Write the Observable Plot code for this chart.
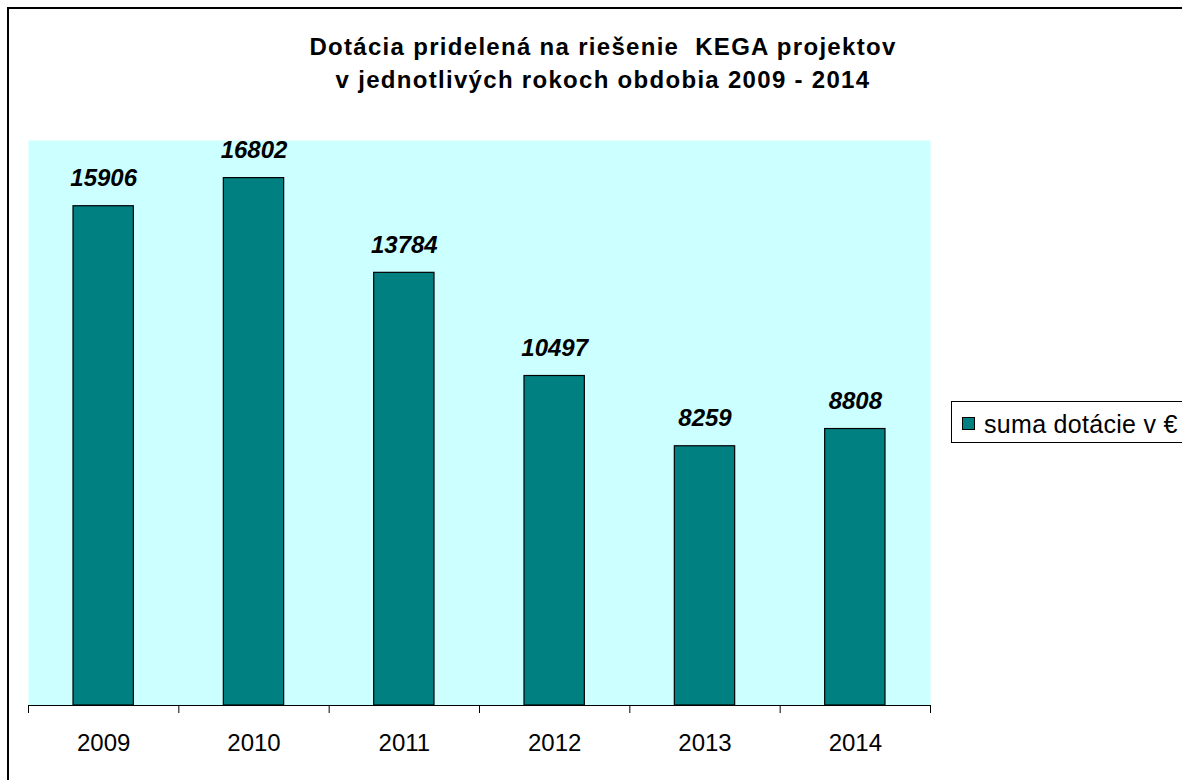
<!DOCTYPE html>
<html>
<head>
<meta charset="utf-8">
<script src="https://cdn.jsdelivr.net/npm/d3@7"></script>
<script src="https://cdn.jsdelivr.net/npm/@observablehq/plot@0.6"></script>
<style>
  html, body { margin: 0; padding: 0; background: #fff; }
  #wrap { position: relative; width: 1182px; height: 780px; overflow: hidden; font-family: "Liberation Sans", Arial, sans-serif; }
  #border { position: absolute; left: 7px; top: 7px; width: 1200px; height: 800px; border-left: 2px solid #000; border-top: 2px solid #000; }
  #title { position: absolute; left: 0; width: 1206px; top: 30px; text-align: center; font-weight: bold; font-size: 24px; letter-spacing: 1.3px; line-height: 33px; color: #000; }
  #legend { position: absolute; left: 951px; top: 401px; width: 260px; height: 42px; border: 1px solid #000; box-sizing: border-box; }
  #legend .sw { position: absolute; left: 10px; top: 15px; width: 11px; height: 11px; background: #008080; border: 1px solid #000; }
  #legend .lb { position: absolute; left: 32px; top: 8.5px; font-size: 25px; line-height: 26px; letter-spacing: 0.3px; white-space: nowrap; }
  #chart { position: absolute; left: 0; top: 0; }
</style>
</head>
<body>
<div id="wrap">
  <div id="chart"></div>
  <div id="border"></div>
  <div id="title">Dotácia pridelená na riešenie&nbsp; KEGA projektov<br>v jednotlivých rokoch obdobia 2009 - 2014</div>
  <div id="legend"><div class="sw"></div><div class="lb">suma dotácie v €</div></div>
</div>
<script>
const years = ["2009", "2010", "2011", "2012", "2013", "2014"];
const values = [15906, 16802, 13784, 10497, 8259, 8808];
const seriesName = "suma dotácie v €";

const data = years.map((y, i) => ({ year: y, idx: i, value: values[i] }));
const tickPositions = d3.range(years.length + 1);

const chart = Plot.plot({
  width: 1182,
  height: 780,
  marginLeft: 28,
  marginRight: 252,
  marginTop: 140,
  marginBottom: 75,
  style: { fontFamily: "'Liberation Sans', Arial, sans-serif", background: "transparent" },
  x: { type: "linear", domain: [0, years.length], label: null },
  y: { domain: [0, 18000], axis: null, label: null },
  marks: [
    Plot.frame({ fill: "#ccffff", stroke: null }),
    Plot.rectY(data, { x1: "idx", x2: d => d.idx + 1, y: "value", insetLeft: 45, insetRight: 45, fill: "#008080", stroke: "#000", strokeWidth: 1.2 }),
    Plot.text(data, { x: d => d.idx + 0.5, y: "value", text: d => String(d.value), dy: -28, fontSize: 24, fontWeight: "bold", fontStyle: "italic", fill: "#000" }),
    Plot.ruleY([0], { stroke: "#000", strokeWidth: 1 }),
    Plot.axisX(tickPositions, { tickSize: 8, tickFormat: () => "", label: null, stroke: "#000", strokeWidth: 1 }),
    Plot.text(data, { x: d => d.idx + 0.5, y: 0, text: "year", dy: 38, fontSize: 24, fill: "#000" })
  ]
});
document.getElementById("chart").appendChild(chart);
</script>
</body>
</html>
